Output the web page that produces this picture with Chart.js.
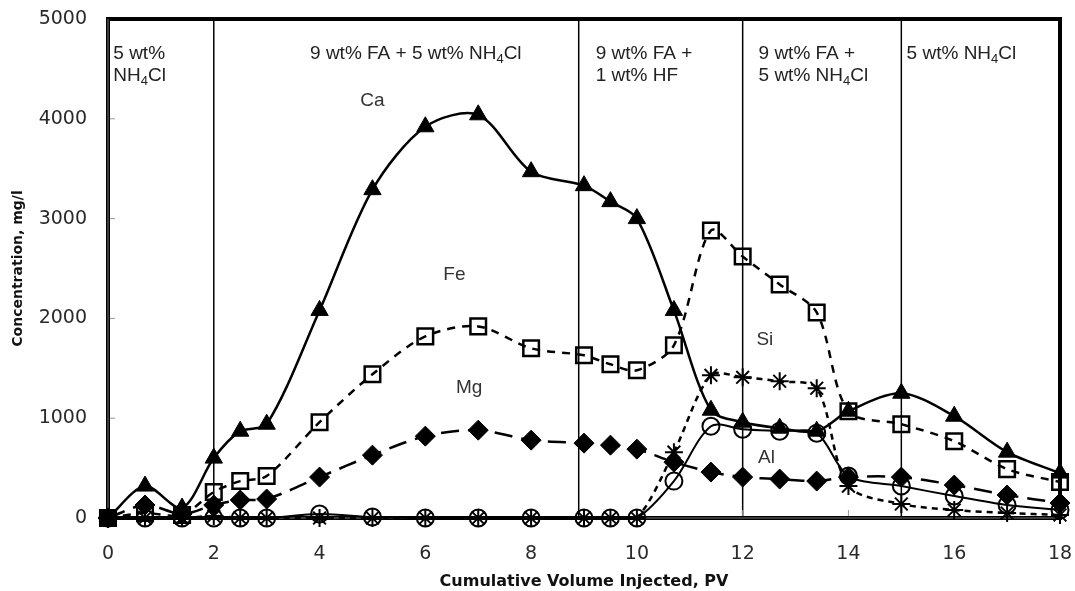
<!DOCTYPE html>
<html>
<head>
<meta charset="utf-8">
<script src="https://cdn.jsdelivr.net/npm/chart.js@4.4.1/dist/chart.umd.min.js"></script>
<style>
  html, body { margin: 0; padding: 0; background: #fff; }
</style>
</head>
<body>
<canvas id="chart" width="1075" height="591"></canvas>
<script>
// cumulative pore volumes injected at each sample
const pv = [0, 0.7, 1.4, 2, 2.5, 3, 4, 5, 6, 7, 8, 9, 9.5, 10, 10.7, 11.4, 12, 12.7, 13.4, 14, 15, 16, 17, 18];

// effluent concentrations, mg/l
const ca = [0, 320, 100, 600, 870, 940, 2080, 3290, 3920, 4040, 3470, 3330, 3170, 3000, 2080, 1080, 960, 900, 870, 1070, 1250, 1020, 660, 450];
const fe = [0, 50, 30, 260, 370, 420, 960, 1440, 1820, 1920, 1700, 1630, 1540, 1480, 1730, 2880, 2620, 2340, 2060, 1070, 940, 770, 490, 360];
const mg = [0, 130, 40, 130, 180, 190, 410, 630, 820, 880, 780, 750, 730, 690, 560, 460, 410, 390, 370, 410, 410, 330, 230, 150];
const si = [0, 0, 0, 20, 0, 0, 0, 0, 0, 0, 0, 0, 0, 0, 660, 1430, 1410, 1370, 1300, 320, 140, 80, 50, 30];
const al = [0, 0, 0, 0, 0, 0, 40, 10, 0, 0, 0, 0, 0, 0, 370, 920, 890, 870, 850, 420, 320, 220, 130, 80];

// PV where the injected fluid changes
const phaseBounds = [2, 8.9, 12, 15];

const yTicks = [0, 1000, 2000, 3000, 4000, 5000];
const xTicks = [0, 2, 4, 6, 8, 10, 12, 14, 16, 18];

const textFont = '19px "Liberation Sans", Arial, sans-serif';
const subFont = '13px "Liberation Sans", Arial, sans-serif';

const phaseNotes = [
  { x: 0.1, lines: ['5 wt%', 'NH₄Cl'] },
  { x: 3.82, lines: ['9 wt% FA + 5 wt% NH₄Cl'] },
  { x: 9.22, lines: ['9 wt% FA +', '1 wt% HF'] },
  { x: 12.3, lines: ['9 wt% FA +', '5 wt% NH₄Cl'] },
  { x: 15.1, lines: ['5 wt% NH₄Cl'] },
];

const seriesNotes = [
  { text: 'Ca', x: 5.0, y: 4177 },
  { text: 'Fe', x: 6.55, y: 2440 },
  { text: 'Mg', x: 6.83, y: 1305 },
  { text: 'Si', x: 12.42, y: 1787 },
  { text: 'Al', x: 12.45, y: 602 },
];

// writes a string, dropping the ₄ into a small lowered digit
function drawSubText(ctx, str, x, y) {
  const parts = str.split('₄');
  let cx = x;
  parts.forEach((p, i) => {
    ctx.font = textFont;
    ctx.fillText(p, cx, y);
    cx += ctx.measureText(p).width;
    if (i < parts.length - 1) {
      ctx.font = subFont;
      ctx.fillText('4', cx, y + 5);
      cx += ctx.measureText('4').width;
    }
  });
}

const framePlugin = {
  id: 'frame',
  beforeDatasetsDraw(chart) {
    const { ctx, chartArea: a, scales } = chart;
    ctx.save();
    // phase boundaries
    ctx.strokeStyle = '#000';
    ctx.lineWidth = 1.5;
    phaseBounds.forEach(b => {
      const px = scales.x.getPixelForValue(b);
      ctx.beginPath();
      ctx.moveTo(px, a.top);
      ctx.lineTo(px, a.bottom);
      ctx.stroke();
    });
    // small inward tick marks
    ctx.strokeStyle = '#999';
    ctx.lineWidth = 1;
    yTicks.forEach(v => {
      const py = scales.y.getPixelForValue(v);
      ctx.beginPath();
      ctx.moveTo(a.left, py);
      ctx.lineTo(a.left + 7, py);
      ctx.stroke();
    });
    xTicks.forEach(v => {
      const px = scales.x.getPixelForValue(v);
      ctx.beginPath();
      ctx.moveTo(px, a.bottom);
      ctx.lineTo(px, a.bottom - 8);
      ctx.stroke();
    });
    // heavy box round the plot
    ctx.strokeStyle = '#000';
    ctx.lineWidth = 4;
    ctx.strokeRect(a.left, a.top, a.right - a.left, a.bottom - a.top);
    ctx.strokeStyle = '#777';
    ctx.lineWidth = 1;
    ctx.beginPath();
    ctx.moveTo(a.left, a.top);
    ctx.lineTo(a.left, a.bottom);
    ctx.lineTo(a.right, a.bottom);
    ctx.stroke();
    ctx.restore();
  },
  afterDraw(chart) {
    const { ctx, scales } = chart;
    ctx.save();
    ctx.textBaseline = 'middle';
    ctx.textAlign = 'left';
    ctx.fillStyle = '#222';
    const lineY = [scales.y.getPixelForValue(4649), scales.y.getPixelForValue(4428)];
    phaseNotes.forEach(n => {
      const px = scales.x.getPixelForValue(n.x);
      n.lines.forEach((l, i) => drawSubText(ctx, l, px, lineY[i]));
    });
    ctx.fillStyle = '#333';
    ctx.textAlign = 'center';
    ctx.font = textFont;
    seriesNotes.forEach(n => {
      ctx.fillText(n.text, scales.x.getPixelForValue(n.x), scales.y.getPixelForValue(n.y));
    });
    ctx.restore();
  }
};

function series(label, values, opts) {
  return Object.assign({
    label: label,
    data: values.map((v, i) => ({ x: pv[i], y: v })),
    borderColor: '#000',
    pointBorderColor: '#000',
    borderWidth: 2.5,
    pointBorderWidth: 2.5,
    tension: 0.3,
    clip: false,
    fill: false,
  }, opts);
}

const datasets = [
  series('Ca', ca, { pointStyle: 'triangle', pointRadius: 10, pointBackgroundColor: '#000', pointBorderWidth: 1 }),
  series('Fe', fe, { pointStyle: 'rect', pointRadius: 11, pointBackgroundColor: 'rgba(0,0,0,0)', borderDash: [8, 7] }),
  series('Mg', mg, { pointStyle: 'rectRot', pointRadius: 10, pointBackgroundColor: '#000', pointBorderWidth: 1, borderDash: [18, 9] }),
  series('Si', si, { pointStyle: 'star', pointRadius: 9, pointBackgroundColor: 'rgba(0,0,0,0)', pointBorderWidth: 2, borderDash: [6, 5] }),
  series('Al', al, { pointStyle: 'circle', pointRadius: 8.5, pointBackgroundColor: 'rgba(0,0,0,0)', pointBorderWidth: 2, borderWidth: 2 }),
];

const tickFont = { family: '"DejaVu Sans", Verdana, sans-serif', size: 19 };

new Chart(document.getElementById('chart'), {
  type: 'line',
  data: { datasets: datasets },
  options: {
    responsive: false,
    animation: false,
    layout: { padding: { top: 19, right: 15, left: 0, bottom: 0 } },
    plugins: { legend: { display: false }, tooltip: { enabled: false } },
    scales: {
      x: {
        type: 'linear',
        min: 0,
        max: 18,
        border: { display: false },
        grid: { display: false, drawTicks: false },
        ticks: { stepSize: 2, padding: 25, font: tickFont, color: '#2a2a2a', maxRotation: 0, callback: v => String(v) },
        title: {
          display: true,
          text: 'Cumulative Volume Injected, PV',
          font: { family: '"DejaVu Sans", Verdana, sans-serif', size: 16, weight: 'bold' },
          color: '#111',
          padding: { top: 0, bottom: 0 },
        },
        afterFit: s => { s.height = 73; s.paddingLeft = 0; s.paddingRight = 0; },
      },
      y: {
        min: 0,
        max: 5000,
        border: { display: false },
        grid: { display: false, drawTicks: false },
        ticks: { stepSize: 1000, padding: 21, font: tickFont, color: '#2a2a2a', callback: v => String(v) },
        title: {
          display: true,
          text: 'Concentration, mg/l',
          font: { family: '"DejaVu Sans", Verdana, sans-serif', size: 14, weight: 'bold' },
          color: '#111',
          padding: { top: 10, bottom: 0 },
        },
        afterFit: s => { s.width = 108; s.paddingTop = 0; s.paddingBottom = 0; },
      },
    },
  },
  plugins: [framePlugin],
});
</script>
</body>
</html>
